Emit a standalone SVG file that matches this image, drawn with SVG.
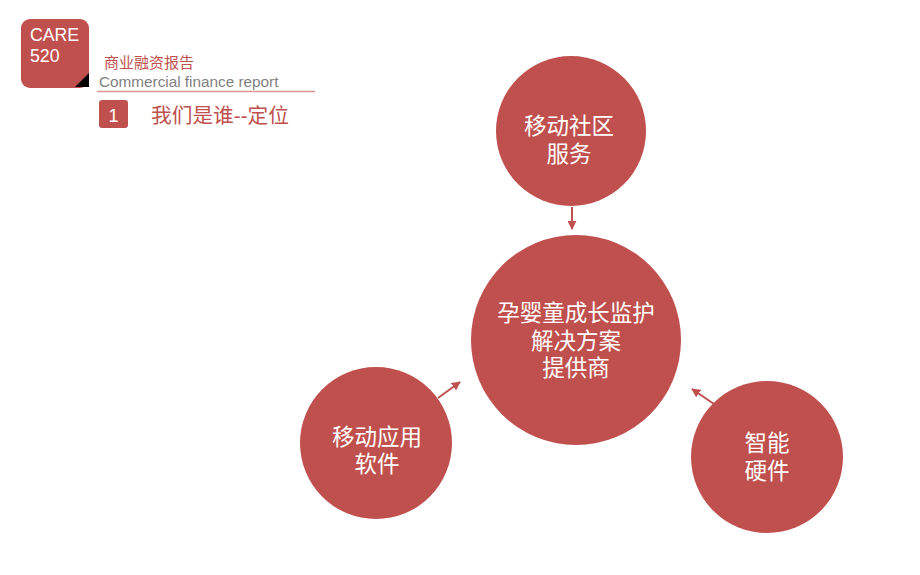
<svg xmlns="http://www.w3.org/2000/svg" width="920" height="575" viewBox="0 0 920 575">
<style>
.node{fill:#c0504d}
.nt{fill:#fff;font-family:"Liberation Sans","Noto Sans CJK SC",sans-serif;font-size:22.5px;text-anchor:middle}
.conn{stroke:#c0504d;stroke-width:2;fill:none;marker-end:url(#ah)}
</style>
<defs>
<marker id="ah" viewBox="0 0 10 10" refX="9" refY="5" markerWidth="4.5" markerHeight="4.5" orient="auto" markerUnits="strokeWidth">
<path d="M0,0 L10,5 L0,10 z" fill="#c0504d"/>
</marker>
</defs>
<rect width="920" height="575" fill="#fff"/>
<g id="header">
<rect x="21" y="19" width="68" height="69" rx="9" fill="#c0504d"/>
<path d="M75,87 L89,87 L89,73 z" fill="#000"/>
<text x="30" y="41" font-family="Liberation Sans,sans-serif" font-size="17.7" fill="#fff">CARE</text>
<text x="30" y="62" font-family="Liberation Sans,sans-serif" font-size="17.7" fill="#fff">520</text>
<text x="104" y="68" font-family="Liberation Sans,Noto Sans CJK SC,sans-serif" font-size="15" fill="#c0504d">商业融资报告</text>
<text x="99" y="87" font-family="Liberation Sans,sans-serif" font-size="15.3" fill="#7f7f7f">Commercial finance report</text>
<line x1="97" y1="91.5" x2="315" y2="91.5" stroke="#d99694" stroke-width="1.5"/>
<rect x="99" y="100" width="29" height="28" rx="3" fill="#c0504d"/>
<text x="113.5" y="122" font-family="Liberation Sans,sans-serif" font-size="18" fill="#fff" text-anchor="middle">1</text>
<text x="151" y="123" font-family="Liberation Sans,Noto Sans CJK SC,sans-serif" font-size="20.7" fill="#c0504d">我们是谁--定位</text>
</g>
<g id="connectors">
<line class="conn" x1="572" y1="207" x2="572" y2="229"/>
<line class="conn" x1="438" y1="398" x2="460" y2="382"/>
<line class="conn" x1="714" y1="404" x2="692" y2="389"/>
</g>
<g id="n-top">
<circle class="node" cx="571" cy="131" r="75"/>
<text class="nt" x="569" y="134">移动社区</text>
<text class="nt" x="569" y="162">服务</text>
</g>
<g id="n-center">
<circle class="node" cx="576" cy="340" r="105"/>
<text class="nt" x="576" y="321">孕婴童成长监护</text>
<text class="nt" x="576" y="349">解决方案</text>
<text class="nt" x="576" y="376">提供商</text>
</g>
<g id="n-left">
<circle class="node" cx="376" cy="443" r="76"/>
<text class="nt" x="377" y="445">移动应用</text>
<text class="nt" x="377" y="472">软件</text>
</g>
<g id="n-right">
<circle class="node" cx="767" cy="457" r="76"/>
<text class="nt" x="767" y="451">智能</text>
<text class="nt" x="767" y="479">硬件</text>
</g>
</svg>
